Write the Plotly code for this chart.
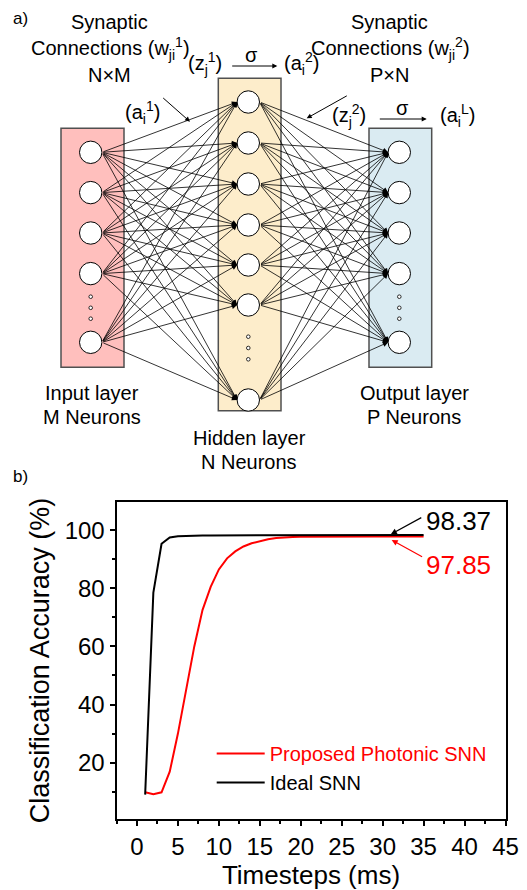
import plotly.graph_objects as go

# ---------------- data (panel b) ----------------
timesteps = list(range(1, 36))
photonic_snn = [9.8, 9.1, 9.8, 16.9, 30.0, 45.0, 60.0, 72.5, 80.5, 86.5,
                90.3, 92.7, 94.4, 95.5, 96.3, 96.9, 97.3, 97.55, 97.65, 97.7,
                97.74, 97.77, 97.79, 97.8, 97.81, 97.82, 97.83, 97.83, 97.84, 97.84,
                97.85, 97.85, 97.85, 97.85, 97.85]
ideal_snn = [9.0, 78.5, 95.3, 97.5, 97.9, 98.05, 98.1, 98.15, 98.2, 98.2,
             98.22, 98.25, 98.27, 98.28, 98.3, 98.3, 98.32, 98.33, 98.31, 98.33,
             98.34, 98.35, 98.35, 98.36, 98.35, 98.36, 98.37, 98.36, 98.37, 98.37,
             98.37, 98.37, 98.37, 98.37, 98.37]
series_names = ["Proposed Photonic SNN", "Ideal SNN"]
final_labels = ["98.37", "97.85"]

# ---------------- diagram (panel a) text ----------------
layer_labels = [["Input layer", "M Neurons"], ["Hidden layer", "N Neurons"], ["Output layer", "P Neurons"]]
synapse_labels = [["Synaptic", "Connections (w<sub>ji</sub><sup>1</sup>)", "N×M"],
                  ["Synaptic", "Connections (w<sub>ji</sub><sup>2</sup>)", "P×N"]]

W, H = 527, 890
FONT = "Arial, Liberation Sans, sans-serif"

fig = go.Figure()
fig.add_trace(go.Scatter(x=timesteps, y=photonic_snn, mode="lines",
                         line=dict(color="#FF0000", width=2),
                         name='<span style="color:#FF0000">' + series_names[0] + "</span>"))
fig.add_trace(go.Scatter(x=timesteps, y=ideal_snn, mode="lines",
                         line=dict(color="black", width=2),
                         name=series_names[1]))
# invisible trace to hold the diagram's pixel-space axes
fig.add_trace(go.Scatter(x=[], y=[], xaxis="x2", yaxis="y2", showlegend=False, hoverinfo="skip"))

shapes = []
annotations = []

def dtext(x, y, text, size=20, color="black"):
    annotations.append(dict(x=x, y=y, xref="x2", yref="y2", text=text, showarrow=False,
                            font=dict(family=FONT, size=size, color=color),
                            xanchor="center", yanchor="middle"))

def darrow(x0, y0, x1, y1, width=1.0, size=1.2, head=2):
    annotations.append(dict(x=x1, y=y1, ax=x0, ay=y0, xref="x2", yref="y2",
                            axref="x2", ayref="y2", text="", showarrow=True,
                            arrowhead=head, arrowsize=size, arrowwidth=width,
                            arrowcolor="black"))

# layer geometry (pixel space)
layers = [
    dict(box=(61, 128.3, 124, 367.3), fill="#FFBFBD", cx=90.7,
         ys=[152.3, 192.6, 233.0, 273.6, 342.3], dots=[296.7, 307.8, 318.7]),
    dict(box=(218.3, 78.3, 281, 410.7), fill="#FDEDCB", cx=248.3,
         ys=[102.0, 143.0, 184.0, 225.0, 265.0, 305.0, 400.0], dots=[336.7, 348.0, 359.3]),
    dict(box=(369, 128.3, 431.7, 367.3), fill="#DAEBF2", cx=399.3,
         ys=[152.3, 192.6, 233.0, 273.6, 342.3], dots=[296.7, 307.8, 318.7]),
]
R = 11.2

for L in layers:
    x0, y0, x1, y1 = L["box"]
    shapes.append(dict(type="rect", xref="x2", yref="y2", x0=x0, y0=y0, x1=x1, y1=y1,
                       fillcolor=L["fill"], line=dict(color="#505050", width=1.5), layer="below"))

for L in layers:
    for y in L["ys"]:
        shapes.append(dict(type="circle", xref="x2", yref="y2",
                           x0=L["cx"] - R, x1=L["cx"] + R, y0=y - R, y1=y + R,
                           fillcolor="white", line=dict(color="black", width=1)))
    for y in L["dots"]:
        shapes.append(dict(type="circle", xref="x2", yref="y2",
                           x0=L["cx"] - 1.8, x1=L["cx"] + 1.8, y0=y - 1.8, y1=y + 1.8,
                           fillcolor="white", line=dict(color="black", width=0.8)))

# full connections between consecutive layers
for a, b in [(0, 1), (1, 2)]:
    A, B = layers[a], layers[b]
    for ys in A["ys"]:
        for yd in B["ys"]:
            darrow(A["cx"] + R, ys, B["cx"] - R, yd, width=0.8, size=1.3, head=2)

# labels of panel a
dtext(20, 18, "a)", size=17)
dtext(20, 476, "b)", size=17)
for cx, lines in zip([109, 389], synapse_labels):
    dtext(cx, 22, lines[0])
    dtext(cx + 1, 48, lines[1])
    dtext(cx, 75, lines[2])
dtext(205, 63, "(z<sub>j</sub><sup>1</sup>)")
dtext(251, 55, "σ")
darrow(230.7, 66, 277.3, 66, width=1, size=1.0, head=2)
dtext(301, 63, "(a<sub>i</sub><sup>2</sup>)")
dtext(142, 112, "(a<sub>i</sub><sup>1</sup>)")
darrow(161.7, 96.7, 190, 121.7, width=1, size=1.0, head=2)
darrow(348.3, 95, 306.7, 118.3, width=1, size=1.0, head=2)
dtext(349, 115, "(z<sub>j</sub><sup>2</sup>)")
dtext(402, 108, "σ")
darrow(378.3, 119, 426.7, 119, width=1, size=1.0, head=2)
dtext(457, 115, "(a<sub>i</sub><sup>L</sup>)")
for cx, cy, lines in zip([92, 249, 414], [393, 438, 393], layer_labels):
    dtext(cx, cy, lines[0])
    dtext(cx, cy + 24, lines[1])

# chart annotations (data space)
annotations.append(dict(x=39.25, y=103.1, xref="x", yref="y", text=final_labels[0], showarrow=False,
                        font=dict(family=FONT, size=26, color="black")))
annotations.append(dict(x=39.25, y=87.9, xref="x", yref="y", text=final_labels[1], showarrow=False,
                        font=dict(family=FONT, size=26, color="#FF0000")))
annotations.append(dict(x=31.0, y=98.6, ax=34.9, ay=104.6, xref="x", yref="y", axref="x", ayref="y",
                        text="", showarrow=True, arrowhead=2, arrowsize=1.0, arrowwidth=1.2,
                        arrowcolor="black"))
annotations.append(dict(x=31.1, y=96.6, ax=35.0, ay=90.6, xref="x", yref="y", axref="x", ayref="y",
                        text="", showarrow=True, arrowhead=2, arrowsize=1.0, arrowwidth=1.2,
                        arrowcolor="#FF0000"))

axis_common = dict(showline=True, linewidth=2, linecolor="black", mirror=True,
                   ticks="outside", ticklen=5, tickwidth=2, tickcolor="black",
                   showgrid=False, zeroline=False, automargin=False,
                   tickfont=dict(family=FONT, size=24, color="black"))

fig.update_layout(
    width=W, height=H,
    margin=dict(l=0, r=0, t=0, b=0),
    paper_bgcolor="white", plot_bgcolor="rgba(0,0,0,0)",
    font=dict(family=FONT, color="black"),
    xaxis=dict(domain=[116.5 / W, 505.5 / W], range=[-2.5, 45], tick0=0, dtick=5,
               title=dict(text="Timesteps (ms)", font=dict(family=FONT, size=26, color="black"), standoff=8),
               minor=dict(ticks="outside", ticklen=3, tickwidth=2, tickcolor="black", dtick=2.5, tick0=0),
               **axis_common),
    yaxis=dict(domain=[(H - 819.3) / H, (H - 501.7) / H], range=[0.5, 109.8], tick0=0, dtick=20,
               title=dict(text="Classification Accuracy (%)", font=dict(family=FONT, size=27, color="black"), standoff=7),
               minor=dict(ticks="outside", ticklen=3, tickwidth=2, tickcolor="black", dtick=10, tick0=0),
               **axis_common),
    xaxis2=dict(domain=[0, 1], range=[0, W], visible=False, anchor="y2", fixedrange=True),
    yaxis2=dict(domain=[0, 1], range=[H, 0], visible=False, anchor="x2", fixedrange=True),
    showlegend=True,
    legend=dict(x=211.7 / W, y=(H - 734) / H, xanchor="left", yanchor="top",
                bgcolor="rgba(0,0,0,0)", borderwidth=0, itemwidth=48,
                font=dict(family=FONT, size=20, color="black"), tracegroupgap=0),
    shapes=shapes,
    annotations=annotations,
)

fig.write_html("out.html", config={"displayModeBar": False},
               post_script="document.body.style.margin='0px';")
